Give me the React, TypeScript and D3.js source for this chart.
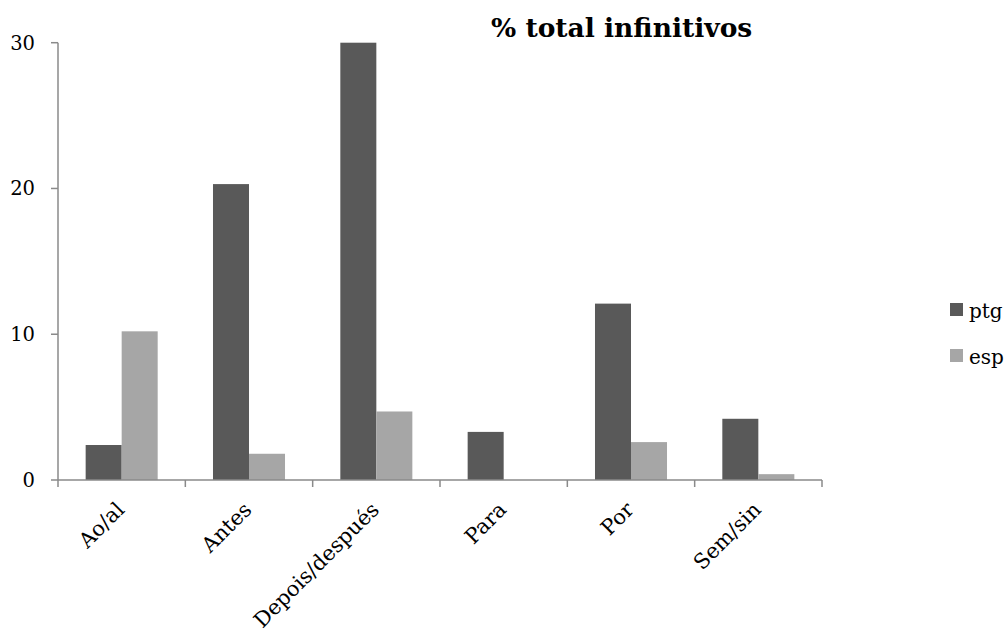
import React from "react";
import * as d3 from "d3";

// Chart data
const categories = ["Ao/al", "Antes", "Depois/después", "Para", "Por", "Sem/sin"];
const seriesNames = ["ptg", "esp"];
const ptgValues = [2.4, 20.3, 30, 3.3, 12.1, 4.2];
const espValues = [10.2, 1.8, 4.7, 0, 2.6, 0.4];
const yTicks = [0, 10, 20, 30];
const title = "% total infinitivos";

const seriesColors: Record<string, string> = { ptg: "#595959", esp: "#a6a6a6" };
const axisColor = "#8a8a8a";
const font = "'DejaVu Serif', serif";

const W = 1006;
const H = 629;
const plot = { left: 58, right: 822, top: 42.7, bottom: 480 };

export default function App() {
  const x0 = d3.scaleBand<string>().domain(categories).range([plot.left, plot.right]).padding(0);
  const x1 = d3
    .scaleBand<string>()
    .domain(seriesNames)
    .range([0, x0.bandwidth()])
    .paddingInner(0)
    .paddingOuter(0.768);
  const y = d3.scaleLinear().domain([0, 30]).range([plot.bottom, plot.top]);

  const rows = categories.map((c, i) => ({ cat: c, ptg: ptgValues[i], esp: espValues[i] }));
  const boundaries = [...categories.map((c) => x0(c) as number), plot.right];

  return (
    <svg
      width={W}
      height={H}
      style={{ position: "absolute", left: 0, top: 0, background: "#fff" }}
      fontFamily={font}
    >
      {/* bars */}
      {rows.map((r) =>
        seriesNames.map((s) => {
          const v = (r as any)[s] as number;
          const bx = (x0(r.cat) as number) + (x1(s) as number);
          return (
            <rect
              key={r.cat + s}
              x={bx}
              y={y(v)}
              width={x1.bandwidth()}
              height={y(0) - y(v)}
              fill={seriesColors[s]}
            />
          );
        })
      )}

      {/* y axis */}
      <line x1={plot.left} x2={plot.left} y1={y(30)} y2={y(0)} stroke={axisColor} strokeWidth={1.5} />
      {yTicks.map((t) => (
        <g key={t}>
          <line x1={plot.left - 7} x2={plot.left} y1={y(t)} y2={y(t)} stroke={axisColor} strokeWidth={1.5} />
          <text x={35} y={y(t)} dy="0.36em" textAnchor="end" fontSize={19.5} fill="#000">
            {t}
          </text>
        </g>
      ))}

      {/* x axis */}
      <line x1={plot.left} x2={plot.right} y1={y(0)} y2={y(0)} stroke={axisColor} strokeWidth={1.5} />
      {boundaries.map((bx, i) => (
        <line key={i} x1={bx} x2={bx} y1={y(0)} y2={y(0) + 7} stroke={axisColor} strokeWidth={1.5} />
      ))}
      {categories.map((c) => {
        const cx = (x0(c) as number) + x0.bandwidth() / 2 + 4;
        const cy = 511;
        return (
          <text
            key={c}
            x={cx}
            y={cy}
            textAnchor="end"
            fontSize={21}
            fill="#000"
            transform={`rotate(-45 ${cx} ${cy})`}
          >
            {c}
          </text>
        );
      })}

      {/* title */}
      <text x={491} y={36.5} fontSize={26.5} fontWeight="bold" fill="#000">
        {title}
      </text>

      {/* legend */}
      {seriesNames.map((s, i) => (
        <g key={s} transform={`translate(950, ${303 + i * 46})`}>
          <rect x={0} y={0} width={13} height={13} fill={seriesColors[s]} />
          <text x={19} y={15} fontSize={20} fill="#000">
            {s}
          </text>
        </g>
      ))}
    </svg>
  );
}
